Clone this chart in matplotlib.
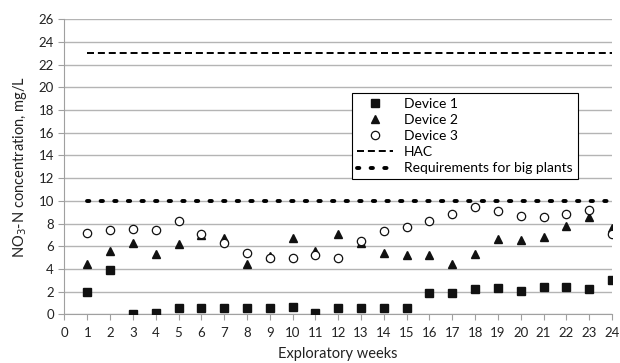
import numpy as np
import matplotlib
matplotlib.use("Agg")
import matplotlib.pyplot as plt

plt.rcParams['font.family'] = ['Lato', 'DejaVu Sans']

weeks = list(range(1, 25))
device1 = [2.0, 3.9, 0.03, 0.15, 0.53, 0.58, 0.6, 0.53, 0.58, 0.62, 0.15, 0.53,
           0.53, 0.55, 0.6, 1.85, 1.9, 2.23, 2.29, 2.08, 2.38, 2.43, 2.2, 3.0]
device2 = [4.4, 5.6, 6.3, 5.3, 6.2, 7.0, 6.7, 4.4, 5.15, 6.7, 5.6, 7.1,
           6.25, 5.4, 5.2, 5.2, 4.4, 5.35, 6.6, 6.55, 6.8, 7.8, 8.6, 7.6]
device3 = [7.2, 7.4, 7.5, 7.45, 8.25, 7.1, 6.3, 5.4, 5.0, 4.93, 5.2, 4.93,
           6.5, 7.3, 7.7, 8.25, 8.8, 9.45, 9.1, 8.65, 8.55, 8.8, 9.2, 7.1]
hac = [23] * 24
big_plants = [10] * 24

fig = plt.figure(figsize=(6.2, 3.63), dpi=100)
ax = fig.add_axes([0.104, 0.134, 0.883, 0.813])

ax.plot(weeks, device1, 's', color='#111111', ms=5.8, label='Device 1', zorder=4)
ax.plot(weeks, device2, '^', color='#111111', ms=6, label='Device 2', zorder=4)
ax.plot(weeks, device3, 'o', mfc='white', mec='#111111', mew=0.9, ms=6, label='Device 3', zorder=5)
ax.plot(weeks, hac, color='black', lw=1.4, dashes=(3.6, 2.0), label='HAC', zorder=3)
ax.plot(weeks, big_plants, color='black', lw=2.8, dashes=(0.6, 2.9),
        dash_capstyle='round', label='Requirements for big plants', zorder=3)

ax.set_xlim(0, 24)
ax.set_ylim(0, 26)
ax.set_xticks(range(0, 25))
ax.set_yticks(range(0, 27, 2))
ax.yaxis.grid(True, color='#b4b4b4', lw=1)
ax.set_axisbelow(True)
for s in ['top', 'right']:
    ax.spines[s].set_visible(False)
for s in ['left', 'bottom']:
    ax.spines[s].set_color('#a0a0a0')
ax.tick_params(colors='#a0a0a0', labelcolor='#222222', labelsize=9.5, length=4)
ax.tick_params(axis='x', pad=5)

ax.set_xlabel('Exploratory weeks', fontsize=10.5, color='#222222', labelpad=6)
ax.set_ylabel('NO$_3$-N concentration, mg/L', fontsize=10.5, color='#222222', labelpad=7)

leg = ax.legend(loc='upper left', bbox_to_anchor=(0.568, 0.744),
                bbox_transform=fig.transFigure, borderaxespad=0,
                fontsize=10, fancybox=False, edgecolor='black',
                framealpha=1, handlelength=2.6, labelspacing=0.3,
                borderpad=0.35)
leg.get_frame().set_linewidth(0.8)

fig.savefig('out.png', dpi=100)
